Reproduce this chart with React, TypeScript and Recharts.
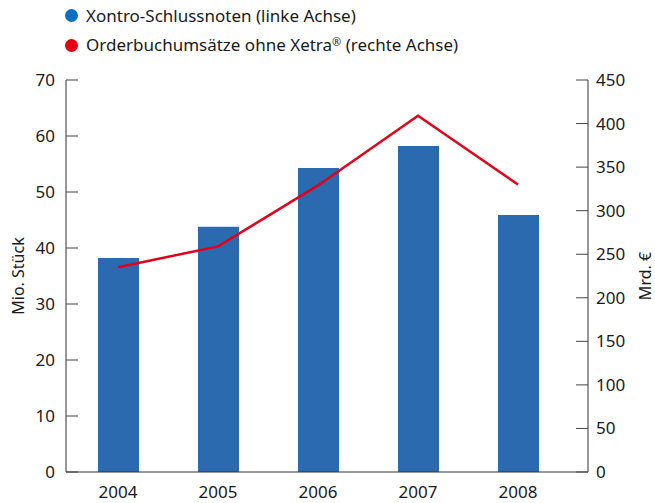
import { ComposedChart, Bar, Line, XAxis, YAxis, Legend } from 'recharts';

const years = ['2004', '2005', '2006', '2007', '2008'];
const schlussnoten = [38.2, 43.8, 54.3, 58.2, 45.9];
const orderbuch = [235, 259, 329, 409, 330];
const leftTicks = [0, 10, 20, 30, 40, 50, 60, 70];
const rightTicks = [0, 50, 100, 150, 200, 250, 300, 350, 400, 450];

const legendItems = [
  { label: 'Xontro-Schlussnoten (linke Achse)', color: '#0a6fc2' },
  { label: 'Orderbuchumsätze ohne Xetra® (rechte Achse)', color: '#e3000f' },
];

const data = years.map((year, i) => ({
  year,
  schlussnoten: schlussnoten[i],
  orderbuch: orderbuch[i],
}));

const font = '"Noto Sans", sans-serif';
const tickStyle = { fontFamily: font, fontSize: 17, fill: '#1a1a1a' };

// ® is set small and raised, like in the print version
const renderLabel = (label: string) => {
  const parts = label.split('®');
  if (parts.length === 1) return label;
  return (
    <>
      {parts[0]}
      <span style={{ fontSize: 11, position: 'relative', top: -5 }}>®</span>
      {parts[1]}
    </>
  );
};

const renderLegend = () => (
  <div style={{ fontFamily: font, fontSize: 17, color: '#1a1a1a', lineHeight: '29px' }}>
    {legendItems.map((item) => (
      <div key={item.label} style={{ display: 'flex', alignItems: 'center', whiteSpace: 'pre' }}>
        <span
          style={{
            display: 'inline-block',
            width: 13,
            height: 13,
            borderRadius: '50%',
            background: item.color,
            marginRight: 8,
          }}
        />
        <span>{renderLabel(item.label)}</span>
      </div>
    ))}
  </div>
);

export default function App() {
  return (
    <div style={{ position: 'absolute', left: 0, top: 0 }}>
      <ComposedChart width={655} height={503} data={data} margin={{ top: 80, right: 0, bottom: 0, left: 0 }}>
        <Legend
          content={renderLegend}
          layout="horizontal"
          verticalAlign="middle"
          align="center"
          wrapperStyle={{ top: 1, left: 65, width: 'auto', height: 'auto' }}
        />
        <XAxis
          dataKey="year"
          height={31}
          padding={{ left: 2, right: 20 }}
          tickLine={false}
          tickSize={0}
          tickMargin={14}
          tick={tickStyle}
          axisLine={{ stroke: '#333' }}
        />
        <YAxis
          yAxisId="left"
          width={66}
          domain={[0, 70]}
          ticks={leftTicks}
          tickSize={-12}
          tickMargin={23}
          tick={tickStyle}
          tickLine={{ stroke: '#444' }}
          axisLine={{ stroke: '#333' }}
          label={{
            value: 'Mio. Stück',
            angle: -90,
            position: 'insideLeft',
            offset: 18,
            textAnchor: 'middle',
            style: { fontFamily: font, fontSize: 16, fill: '#1a1a1a', textAnchor: 'middle' },
          }}
        />
        <YAxis
          yAxisId="right"
          orientation="right"
          width={67}
          domain={[0, 450]}
          ticks={rightTicks}
          tickSize={-12}
          tickMargin={20}
          tick={tickStyle}
          tickLine={{ stroke: '#444' }}
          axisLine={{ stroke: '#333' }}
          label={{
            value: 'Mrd. €',
            angle: -90,
            position: 'insideRight',
            offset: 10,
            textAnchor: 'middle',
            style: { fontFamily: font, fontSize: 16, fill: '#1a1a1a', textAnchor: 'middle' },
          }}
        />
        <Bar
          yAxisId="left"
          dataKey="schlussnoten"
          name="Xontro-Schlussnoten (linke Achse)"
          fill="#2c6ab0"
          barSize={41}
          isAnimationActive={false}
        />
        <Line
          yAxisId="right"
          type="linear"
          dataKey="orderbuch"
          name="Orderbuchumsätze ohne Xetra® (rechte Achse)"
          stroke="#e2001a"
          strokeWidth={2.5}
          dot={false}
          activeDot={false}
          isAnimationActive={false}
        />
      </ComposedChart>
    </div>
  );
}
